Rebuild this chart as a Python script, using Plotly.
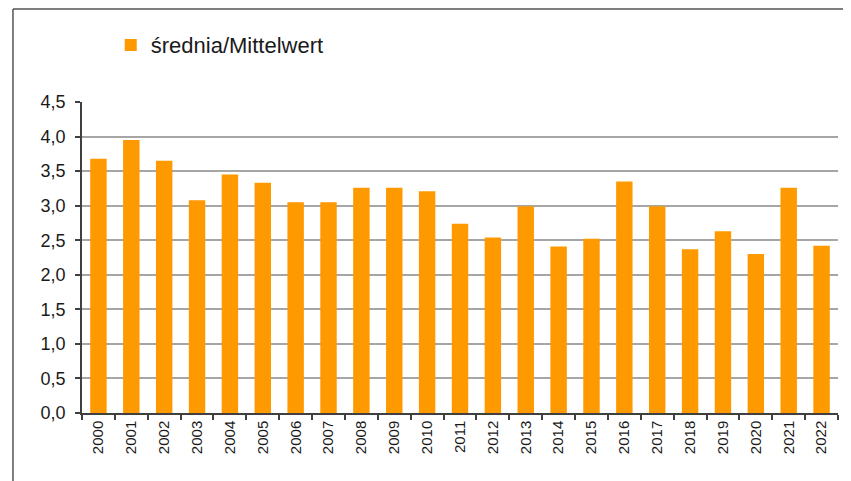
import plotly.graph_objects as go

years = [str(y) for y in range(2000, 2023)]
srednia = [3.68, 3.95, 3.65, 3.08, 3.45, 3.33, 3.05, 3.05, 3.26, 3.26, 3.21,
           2.74, 2.54, 2.99, 2.41, 2.52, 3.35, 2.99, 2.37, 2.63, 2.30, 3.26, 2.42]
y_ticks = [0, 0.5, 1.0, 1.5, 2.0, 2.5, 3.0, 3.5, 4.0, 4.5]

bar_color = "#FF9900"
axis_color = "#404040"
grid_color = "#A6A6A6"
font_family = "Liberation Sans, Arial, sans-serif"

fig = go.Figure()
fig.add_trace(go.Bar(
    x=years, y=srednia,
    name="średnia/Mittelwert",
    marker=dict(color=bar_color, line=dict(width=0)),
))

# page body has an 8px margin, so the figure is a bit smaller than the window
fig.update_layout(
    width=843, height=473,
    margin=dict(l=74, r=13, t=94, b=68, autoexpand=False),
    paper_bgcolor="white", plot_bgcolor="white",
    font=dict(family=font_family, color="#1a1a1a"),
    separators=", ",
    bargap=0.5,
    showlegend=True,
    legend=dict(
        x=0.038, y=1.183, xanchor="left", yanchor="middle",
        font=dict(size=22, family=font_family, color="#1a1a1a"),
        bgcolor="rgba(0,0,0,0)", itemwidth=30,
    ),
    xaxis=dict(
        type="category",
        tickangle=-90,
        tickfont=dict(size=15),
        showline=True, linecolor=axis_color, linewidth=1.5,
        ticks="outside", ticklen=5, tickcolor=axis_color, tickwidth=1.5,
        tickson="boundaries",
        showgrid=False,
    ),
    yaxis=dict(
        range=[0, 4.5],
        tickvals=y_ticks,
        tickformat=".1f",
        tickfont=dict(size=18),
        showline=True, linecolor=axis_color, linewidth=1.5,
        ticks="outside", ticklen=5, tickcolor=axis_color, tickwidth=1.5,
        ticklabelstandoff=6,
        showgrid=True, gridcolor=grid_color, gridwidth=1.5,
        zeroline=False,
    ),
    shapes=[
        # outer frame (only left and top edges are visible)
        dict(type="line", xref="paper", yref="paper",
             x0=-0.0913, x1=1.2, y0=1.299, y1=1.299,
             line=dict(color="#555555", width=1.5)),
        dict(type="line", xref="paper", yref="paper",
             x0=-0.0913, x1=-0.0913, y0=1.299, y1=-0.4,
             line=dict(color="#555555", width=1.5)),
    ],
)

fig.write_html("out.html")
